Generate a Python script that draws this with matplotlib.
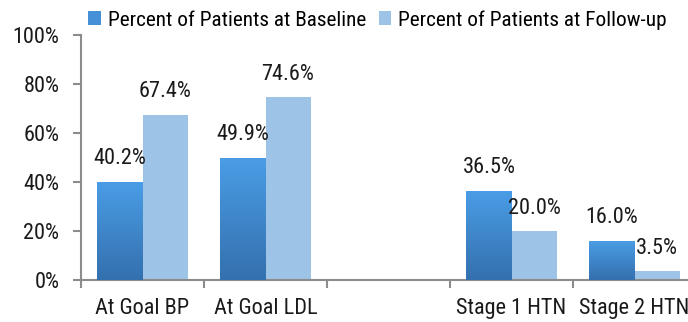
import numpy as np
import matplotlib.pyplot as plt
from matplotlib.colors import LinearSegmentedColormap
from matplotlib.ticker import FixedLocator, PercentFormatter

categories = ["At Goal BP", "At Goal LDL", "", "Stage 1 HTN", "Stage 2 HTN"]
baseline = [40.2, 49.9, np.nan, 36.5, 16.0]
follow_up = [67.4, 74.6, np.nan, 20.0, 3.5]
series_names = ["Percent of Patients at Baseline", "Percent of Patients at Follow-up"]

plt.rcParams["font.family"] = ["Roboto Condensed", "DejaVu Sans"]
plt.rcParams["font.size"] = 16

fig = plt.figure(figsize=(6.88, 3.22), dpi=100)
ax = fig.add_axes([81 / 688, 42 / 322, 615 / 688, 245 / 322])

x = np.arange(len(categories))
w = 0.366
dark_cmap = LinearSegmentedColormap.from_list("base", ["#3470ae", "#4a9de6"])

bars_b = ax.bar(x - w / 2, baseline, w, color="#4690d8", label=series_names[0], zorder=2)
bars_f = ax.bar(x + w / 2, follow_up, w, color="#9dc3e6", label=series_names[1], zorder=2)

# vertical gradient on the baseline bars
grad = np.linspace(0, 1, 256).reshape(-1, 1)
for b in bars_b:
    h = b.get_height()
    if np.isnan(h):
        continue
    x0 = b.get_x()
    im = ax.imshow(grad, cmap=dark_cmap, origin="lower", aspect="auto",
                   extent=[x0, x0 + b.get_width(), 0, h], zorder=3)
    im.set_clip_path(b)

for bars in (bars_b, bars_f):
    for b in bars:
        h = b.get_height()
        if np.isnan(h):
            continue
        ax.annotate(f"{h:.1f}%", (b.get_x() + b.get_width() / 2, h),
                    xytext=(0, 9), textcoords="offset points",
                    ha="center", va="bottom", fontsize=16, color="#1a1a1a")

ax.set_xlim(-0.5, len(categories) - 0.5)
ax.set_ylim(0, 100)
ax.yaxis.set_major_locator(FixedLocator([0, 20, 40, 60, 80, 100]))
ax.yaxis.set_major_formatter(PercentFormatter(decimals=0))

ax.set_xticks(x)
ax.set_xticklabels(categories)
ax.xaxis.set_minor_locator(FixedLocator(np.arange(-0.5, len(categories), 1.0)))
ax.tick_params(axis="x", which="major", length=0, pad=13, labelsize=16, colors="#1a1a1a")
ax.tick_params(axis="x", which="minor", length=5.5, width=1.5, color="#8c8c8c")
ax.tick_params(axis="y", length=5.5, width=1.5, color="#8c8c8c", pad=10,
               labelsize=16, labelcolor="#1a1a1a")

for side in ("top", "right"):
    ax.spines[side].set_visible(False)
for side in ("left", "bottom"):
    ax.spines[side].set_color("#8c8c8c")
    ax.spines[side].set_linewidth(1.5)

fig.legend(handles=[bars_b, bars_f], labels=series_names, loc="upper left",
           bbox_to_anchor=(88 / 688, 1 - 10 / 322), ncol=2, frameon=False,
           borderpad=0, borderaxespad=0,
           handlelength=0.6, handleheight=0.6, handletextpad=0.32,
           columnspacing=0.6, fontsize=15.3)

fig.savefig("out.png", dpi=100)
